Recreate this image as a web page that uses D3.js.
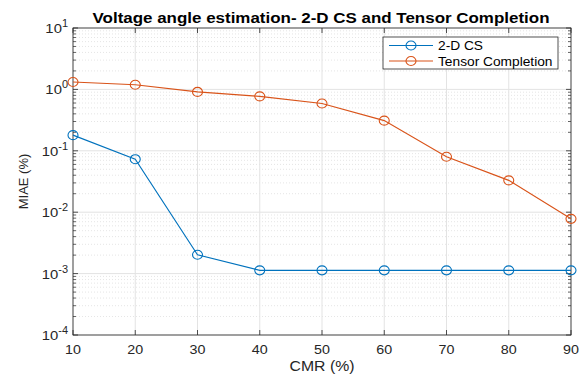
<!DOCTYPE html>
<html><head><meta charset="utf-8">
<script src="https://cdn.jsdelivr.net/npm/d3@7"></script>
<style>body{margin:0;background:#fff}svg{display:block}text{font-family:"Liberation Sans",Arial,sans-serif}</style>
</head><body>
<svg id="c" width="587" height="375"></svg>
<script>
const cmr = [10, 20, 30, 40, 50, 60, 70, 80, 90];
const cs2d = [0.18, 0.073, 0.00203, 0.00113, 0.00113, 0.00113, 0.00113, 0.00113, 0.00113];
const tensor = [1.32, 1.19, 0.91, 0.77, 0.59, 0.31, 0.080, 0.033, 0.0078];
const xTicks = [10, 20, 30, 40, 50, 60, 70, 80, 90];
const yExps = [-4, -3, -2, -1, 0, 1];
const seriesNames = ["2-D CS", "Tensor Completion"];
const colors = ["#0072BD", "#D95319"];

const svg = d3.select("#c");
const L = 73, R = 571, T = 28, B = 335;
const x = d3.scaleLinear().domain([10, 90]).range([L, R]);
const y = d3.scaleLog().domain([1e-4, 10]).range([B, T]);
const ax = "#262626";

function txt(parent, px, py, size, sx, anchor, fill) {
  return parent.append("g").attr("transform", `translate(${px},${py}) scale(${sx},1)`)
    .append("text").attr("text-anchor", anchor).attr("font-size", size).attr("fill", fill || ax);
}

const g = svg.append("g");
// minor grid
const minors = [];
for (let e = -4; e < 1; e++) for (let k = 2; k <= 9; k++) minors.push(k * Math.pow(10, e));
g.selectAll(".mg").data(minors).enter().append("line")
  .attr("x1", L).attr("x2", R).attr("y1", d => y(d)).attr("y2", d => y(d))
  .attr("stroke", "#d4d4d4").attr("stroke-width", 0.6).attr("stroke-dasharray", "1,2");
// major grid
g.selectAll(".gy").data(yExps.map(e => Math.pow(10, e))).enter().append("line")
  .attr("x1", L).attr("x2", R).attr("y1", d => y(d)).attr("y2", d => y(d))
  .attr("stroke", "#e3e3e3").attr("stroke-width", 1);
g.selectAll(".gx").data(xTicks).enter().append("line")
  .attr("x1", d => x(d)).attr("x2", d => x(d)).attr("y1", T).attr("y2", B)
  .attr("stroke", "#e3e3e3").attr("stroke-width", 1);

// box
g.append("rect").attr("x", L).attr("y", T).attr("width", R - L).attr("height", B - T)
  .attr("fill", "none").attr("stroke", ax).attr("stroke-width", 0.8);
xTicks.forEach(v => {
  g.append("line").attr("x1", x(v)).attr("x2", x(v)).attr("y1", B).attr("y2", B - 5).attr("stroke", ax).attr("stroke-width", 0.8);
  g.append("line").attr("x1", x(v)).attr("x2", x(v)).attr("y1", T).attr("y2", T + 5).attr("stroke", ax).attr("stroke-width", 0.8);
});
yExps.forEach(e => {
  const yy = y(Math.pow(10, e));
  g.append("line").attr("x1", L).attr("x2", L + 5).attr("y1", yy).attr("y2", yy).attr("stroke", ax).attr("stroke-width", 0.8);
  g.append("line").attr("x1", R).attr("x2", R - 5).attr("y1", yy).attr("y2", yy).attr("stroke", ax).attr("stroke-width", 0.8);
});
minors.forEach(v => {
  const yy = y(v);
  g.append("line").attr("x1", L).attr("x2", L + 3).attr("y1", yy).attr("y2", yy).attr("stroke", ax).attr("stroke-width", 0.7);
  g.append("line").attr("x1", R).attr("x2", R - 3).attr("y1", yy).attr("y2", yy).attr("stroke", ax).attr("stroke-width", 0.7);
});

// x tick labels
xTicks.forEach(v => txt(g, x(v), 354, 13, 1.1, "middle").text(v));
// y tick labels
yExps.forEach(e => {
  const t = txt(g, 68, y(Math.pow(10, e)) + 5, 13.5, 1.1, "end");
  t.append("tspan").text("10");
  t.append("tspan").attr("dy", -6).attr("font-size", 10).text(e < 0 ? "-" + Math.abs(e) : e);
});

// axis labels
txt(g, (L + R) / 2, 371, 14, 1.13, "middle").text("CMR (%)");
g.append("text").attr("transform", "translate(28," + ((T + B) / 2) + ") rotate(-90)")
  .attr("text-anchor", "middle").attr("font-size", 13).attr("fill", ax).text("MIAE (%)");
// title
txt(g, 321, 23, 15, 1.13, "middle", "#000").attr("font-weight", "bold")
  .text("Voltage angle estimation- 2-D CS and Tensor Completion");

// series
const line = d3.line().x((d, i) => x(cmr[i])).y(d => y(d));
[cs2d, tensor].forEach((s, k) => {
  g.append("path").attr("d", line(s)).attr("fill", "none").attr("stroke", colors[k]).attr("stroke-width", 1.1);
  g.selectAll(".m" + k).data(s).enter().append("ellipse")
    .attr("cx", (d, i) => x(cmr[i])).attr("cy", d => y(d)).attr("rx", 5).attr("ry", 4.5)
    .attr("fill", "none").attr("stroke", colors[k]).attr("stroke-width", 1.1);
});

// legend
const lg = g.append("g");
lg.append("rect").attr("x", 383).attr("y", 37).attr("width", 175).attr("height", 32)
  .attr("fill", "#fff").attr("stroke", ax).attr("stroke-width", 0.8);
seriesNames.forEach((n, k) => {
  const yy = 45.5 + k * 15.5;
  lg.append("line").attr("x1", 389).attr("x2", 433).attr("y1", yy).attr("y2", yy).attr("stroke", colors[k]).attr("stroke-width", 1.1);
  lg.append("ellipse").attr("cx", 411).attr("cy", yy).attr("rx", 5).attr("ry", 4.5).attr("fill", "none").attr("stroke", colors[k]).attr("stroke-width", 1.1);
  txt(lg, 438, yy + 4.5, 12.5, 1.1, "start", "#000").text(n);
});
</script>
</body></html>
